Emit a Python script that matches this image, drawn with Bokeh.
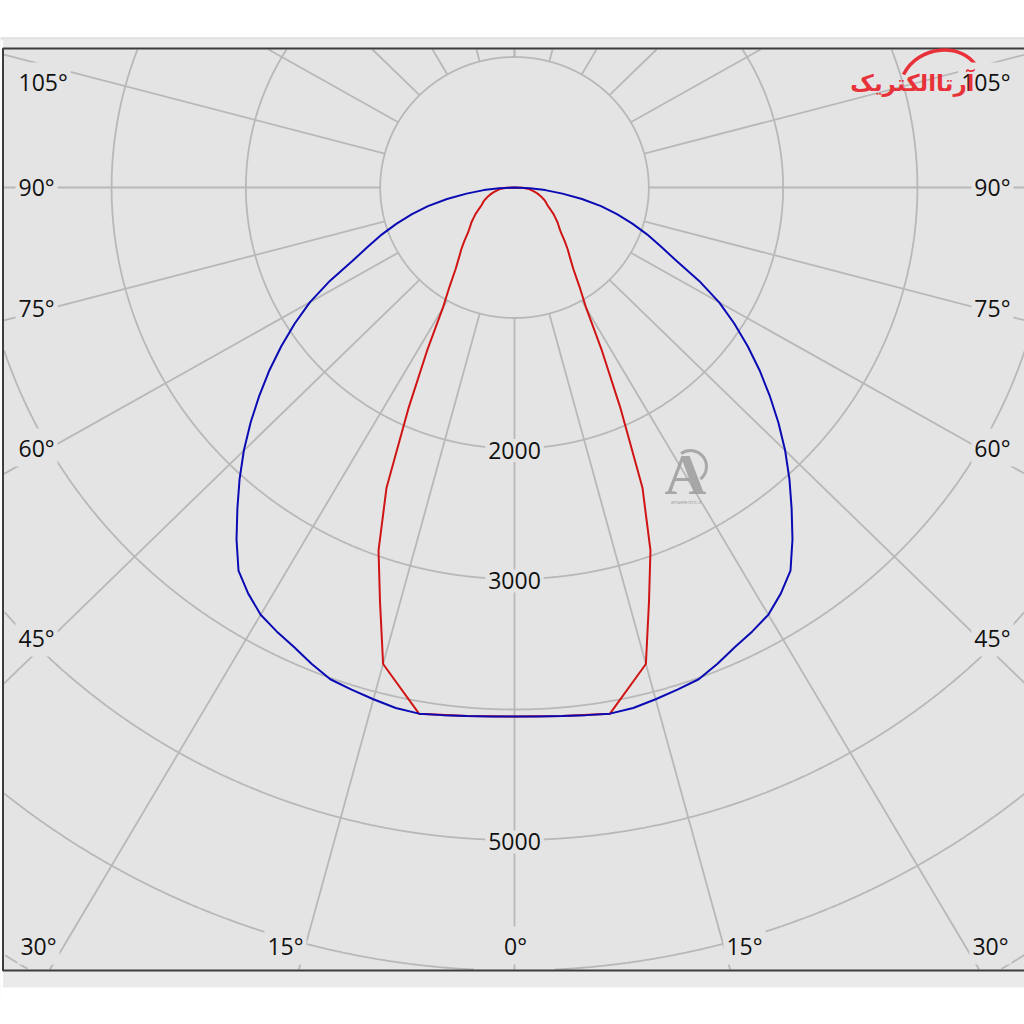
import numpy as np
from bokeh.plotting import figure
from bokeh.models import Range1d, Label
from bokeh.embed import file_html
from bokeh.resources import INLINE

# ---------------- data (candela, angle in degrees) ----------------
blue_angles = [0, 2.5, 5, 7.5, 10, 12.5, 15, 17.5, 20, 22.5, 25, 27.5, 30, 32.5, 35, 37.5, 40,
               42.5, 45, 47.5, 50, 52.5, 55, 57.5, 60, 62.5, 65, 67.5, 70, 72.5, 75, 77.5, 80,
               82.5, 85, 87.5, 90]
blue_cd = [4054, 4058, 4065, 4078, 4094, 4085, 4060, 4035, 4010, 3950, 3885, 3835, 3780, 3690, 3583, 3400, 3210,
           3030, 2850, 2665, 2480, 2300, 2120, 1940, 1760, 1550, 1330, 1180, 1050, 920, 790, 660, 510,
           360, 230, 115, 0]

red_angles = [0, 5, 10, 15, 17.5, 20, 22.5, 25, 27.5, 30, 32.5, 35, 37.5, 40, 42.5, 45, 47.5, 50,
              52.5, 55, 57.5, 60, 62.5, 65, 67.5, 70, 72.5, 75, 77.5, 80, 82.5, 85, 87.5, 90]
red_cd = [4054, 4065, 4094, 3780, 3330, 2960, 2490, 1870, 1410, 1070, 900, 765, 680, 615, 550, 490, 450, 420,
          385, 355, 320, 290, 270, 255, 235, 215, 195, 175, 155, 135, 118, 100, 60, 0]

ring_values = [1000, 2000, 3000, 4000, 5000, 6000, 7000, 8000]
ring_label_values = [2000, 3000, 5000]
spoke_angles = list(range(-180, 181, 15))
side_labels = ["105°", "90°", "75°", "60°", "45°"]
bottom_labels = ["30°", "15°", "0°", "15°", "30°"]

# ---------------- layout (screen pixels of the reference) ----------------
OFF = 0
W, H = 1024, 1000
CX, CY = 514.0, 187.0          # polar centre on screen
SX, SY = 0.1343, 0.1305        # px per cd (horizontal / vertical)
TOP, BOT, LEFT = 48.0, 970.0, 2.5   # plot frame edges

def sx(X):
    return (X - CX) / SX

def sy(Y):
    return (CY - Y) / SY

BG = "#e4e4e4"
GRID = "#b8b8b8"
FONT = "Open Sans"

p = figure(width=W, height=H,
           x_range=Range1d(sx(OFF), sx(OFF + W)),
           y_range=Range1d(sy(OFF + H), sy(OFF)),
           x_axis_location=None, y_axis_location=None,
           output_backend="svg", toolbar_location=None,
           min_border=0, outline_line_color=None,
           background_fill_color="white", border_fill_color="white")
p.grid.visible = False

# outer bands and frame background
p.quad(left=sx(-100), right=sx(1200), top=sy(37), bottom=sy(995), fill_color="#eaeaea", line_color=None)
p.segment(x0=sx(-100), y0=sy(37.5), x1=sx(1200), y1=sy(37.5), line_color="#d6d6d6", line_width=1)
p.quad(left=sx(-100), right=sx(1200), top=sy(987), bottom=sy(1200), fill_color="white", line_color=None)
p.quad(left=sx(-100), right=sx(LEFT), top=sy(40), bottom=sy(990), fill_color="white", line_color=None)
p.quad(left=sx(LEFT), right=sx(1100), top=sy(TOP), bottom=sy(BOT), fill_color=BG, line_color=None)

# rings, clipped to the frame
t = np.radians(np.arange(0, 360.05, 0.1))
for r in ring_values:
    rx_ = r * np.sin(t)
    ry_ = -r * np.cos(t)
    Ys = CY - ry_ * SY
    Xs = CX + rx_ * SX
    out = (Ys < TOP + 1) | (Ys > BOT - 1) | (Xs < LEFT + 1)
    rx_[out] = np.nan
    ry_[out] = np.nan
    p.line(rx_, ry_, line_color=GRID, line_width=1.8)

# spokes from the inner ring outwards, clipped to the frame
a = np.radians(spoke_angles)
r0 = ring_values[0]
c = np.cos(a)
s = np.sin(a)
r_end = np.full(len(a), 20000.0)
for i in range(len(a)):
    if c[i] > 1e-9:
        r_end[i] = min(r_end[i], (BOT - 1 - CY) / (SY * c[i]))
    elif c[i] < -1e-9:
        r_end[i] = min(r_end[i], (TOP + 1 - CY) / (SY * c[i]))
    if s[i] < -1e-9:
        r_end[i] = min(r_end[i], (LEFT + 1 - CX) / (SX * s[i]))
p.segment(x0=r0 * s, y0=-r0 * c, x1=r_end * s, y1=-r_end * c,
          line_color=GRID, line_width=1.8)

def curve(angles, vals):
    ang = np.radians(np.array(angles, dtype=float))
    v = np.array(vals, dtype=float)
    xl = -(v * np.sin(ang))[::-1]
    yl = -(v * np.cos(ang))[::-1]
    xr = v * np.sin(ang)
    yr = -v * np.cos(ang)
    return np.concatenate([xl, xr[1:]]), np.concatenate([yl, yr[1:]])

rx, ry = curve(red_angles, red_cd)
bx, by = curve(blue_angles, blue_cd)
p.line(rx, ry, line_color="#d01414", line_width=2)
p.line(bx, by, line_color="#0a0ab4", line_width=2)

# frame border
p.quad(left=sx(LEFT), right=sx(1100), top=sy(TOP), bottom=sy(BOT),
       fill_color=None, line_color="#3c3c3c", line_width=2)

def add_label(x, y, text, align="center", size="23px"):
    p.add_layout(Label(x=x, y=y, text=text, text_align=align, text_baseline="middle",
                       text_font=FONT, text_font_size=size, text_color="#111111",
                       background_fill_color=BG, padding=3))

# ring value labels on the 0° spoke
for v in ring_label_values:
    add_label(0, -v - 15, str(v))

# angle labels along the frame
side_y = [81, 186, 307, 447, 637]
for tx, Y in zip(side_labels, side_y):
    add_label(sx(15), sy(Y), tx, align="left")
    add_label(sx(1013), sy(Y), tx, align="right")
bottom_x = [38, 285, 515, 744, 990]
for tx, X in zip(bottom_labels, bottom_x):
    add_label(sx(X), sy(945), tx)

# watermark
p.add_layout(Label(x=sx(685), y=sy(474), text="A", text_align="center", text_baseline="middle",
                   text_font="Liberation Serif", text_font_style="bold", text_font_size="58px",
                   text_color="#9c9c9c", text_alpha=0.85))
p.arc(x=[sx(690)], y=[sy(466)], radius=16 / SX, start_angle=-0.9, end_angle=2.2,
      line_color="#a8a8a8", line_width=3)
p.add_layout(Label(x=sx(686), y=sy(501), text="artaelectric.ir", text_align="center",
                   text_baseline="middle", text_font=FONT, text_font_size="5px",
                   text_color="#9c9c9c"))

# logo (top right)
p.bezier(x0=[sx(903)], y0=[sy(74)], x1=[sx(976)], y1=[sy(66)],
         cx0=[sx(918)], cy0=[sy(44)], cx1=[sx(962)], cy1=[sy(42)],
         line_color="#e8323a", line_width=3.5)
p.add_layout(Label(x=sx(974), y=sy(82), text="آرتاالکتریک", text_align="right",
                   text_baseline="middle", text_font="DejaVu Sans", text_font_style="bold",
                   text_font_size="23px", text_color="#e8323a"))

open("out.html", "w").write(file_html(p, INLINE))
